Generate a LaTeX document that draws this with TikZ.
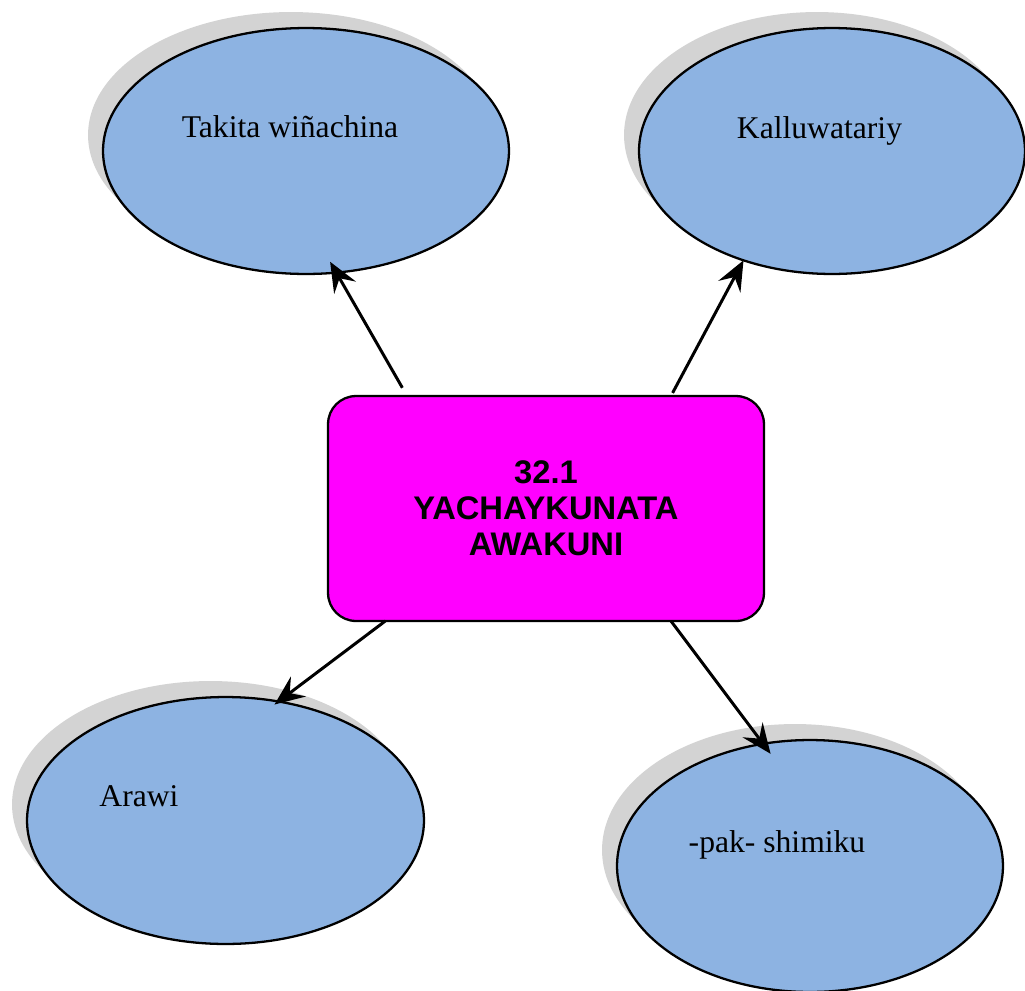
\documentclass[tikz,border=0pt]{standalone}
\usepackage{fontspec}
\setmainfont{Liberation Serif}
\setsansfont{Liberation Sans}
\usepackage{tikz}
\usetikzlibrary{shapes.geometric,shadows,arrows.meta}
\definecolor{bubblefill}{HTML}{8DB3E2}
\definecolor{shadowgray}{HTML}{D3D3D3}
\definecolor{boxfill}{HTML}{FF00FF}
\tikzset{
  bubble/.style={ellipse, draw=black, line width=1.3pt, fill=bubblefill, inner sep=0pt, outer sep=0pt,
    drop shadow={shadow xshift=-0.3cm, shadow yshift=0.32cm, fill=shadowgray, opacity=1}},
  mainbox/.style={rectangle, rounded corners=0.56cm, draw=black, line width=1.3pt, fill=boxfill,
    minimum width=8.72cm, minimum height=4.5cm, inner sep=0pt, outer sep=0pt, align=center,
    font=\sffamily\bfseries\fontsize{18.6}{20.5}\selectfont},
  lbl/.style={anchor=base, inner sep=0pt, font=\fontsize{18}{21}\selectfont},
  arr/.style={-{Stealth[length=6mm, width=5mm, inset=2.2mm]}, line width=1.7pt}
}

\begin{document}
\begin{tikzpicture}[x=0.02cm, y=-0.02cm]
    \useasboundingbox (0,0) rectangle (1025,991);
    \node[bubble, minimum width=8.12cm, minimum height=4.92cm] (takita) at (306,151) {};
    \node[bubble, minimum width=7.72cm, minimum height=4.92cm] (kallu) at (832,151) {};
    \node[bubble, minimum width=7.94cm, minimum height=4.94cm] (arawi) at (225.5,820.5) {};
    \node[bubble, minimum width=7.72cm, minimum height=5.04cm] (pak) at (810,866) {};
    \node[lbl] (takitatext) at (290,137) {Takita wiñachina};
    \node[lbl] (kallutext) at (819.5,138) {Kalluwatariy};
    \node[lbl] (arawitext) at (139,806) {Arawi};
    \node[lbl] (paktext) at (777,852) {-pak- shimiku};
    \node[mainbox] (yachay) at (546,508.5) {32.1\\YACHAYKUNATA\\AWAKUNI};
    \draw[arr, shorten <=0.19cm, shorten >=-0.25cm] (yachay.141) -- (takita.-76.8);
    \draw[arr, shorten <=0.07cm] (yachay.42) -- (kallu.-129);
    \draw[arr, shorten >=-0.1cm] (yachay.215) -- (arawi.66);
    \draw[arr, shorten >=-0.25cm] (yachay.-42) -- (pak.111.1);
\end{tikzpicture}
\end{document}
